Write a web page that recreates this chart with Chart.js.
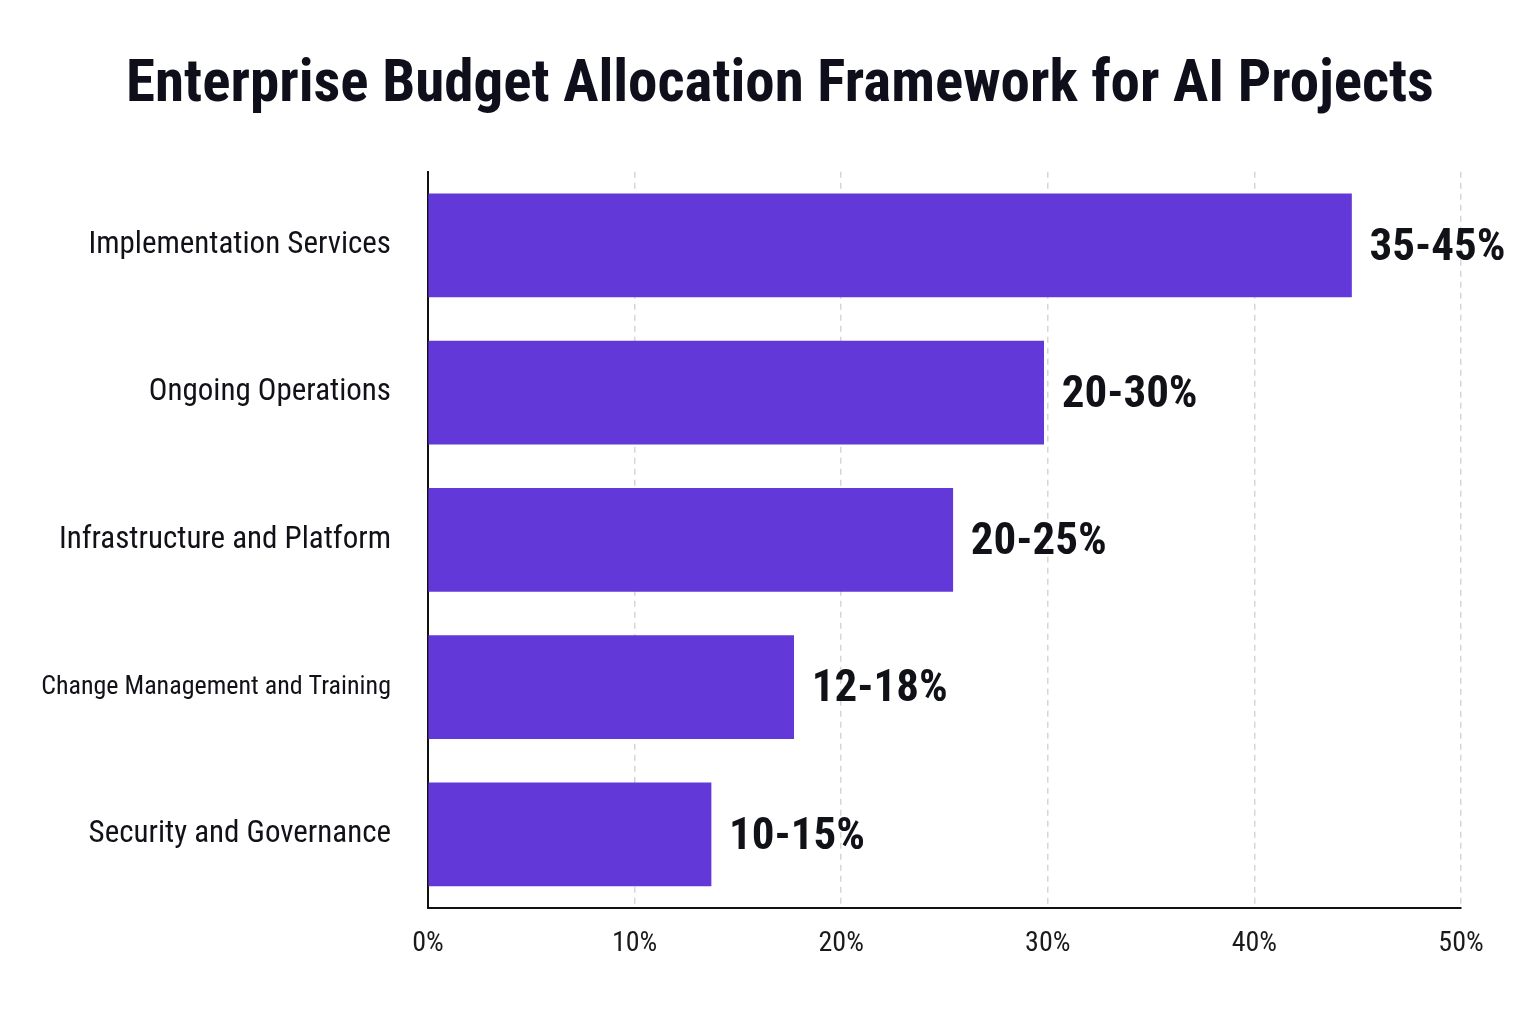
<!DOCTYPE html>
<html>
<head>
<meta charset="utf-8">
<script src="https://cdn.jsdelivr.net/npm/chart.js@4.4.1/dist/chart.umd.min.js"></script>
<style>
  html, body { margin: 0; padding: 0; background: #ffffff; }
  #wrap { width: 1536px; height: 1024px; }
</style>
</head>
<body>
<div id="wrap"><canvas id="c" width="1536" height="1024"></canvas></div>
<script>
const categories = [
  "Implementation Services",
  "Ongoing Operations",
  "Infrastructure and Platform",
  "Change Management and Training",
  "Security and Governance"
];
const allocationValues = [44.7, 29.8, 25.4, 17.7, 13.7];
const rangeLabels = ["35-45%", "20-30%", "20-25%", "12-18%", "10-15%"];
const xTickValues = [0, 10, 20, 30, 40, 50];

const FONT = "'Roboto Condensed', 'Open Sans Condensed', 'DejaVu Sans Condensed', sans-serif";
const BAR_COLOR = '#6338d8';
const TEXT_COLOR = '#111118';
const LABEL_MAX_WIDTH = 350;

// measure helper so long category labels stay inside the canvas like the reference
const measureCtx = document.createElement('canvas').getContext('2d');
function labelFontSize(text) {
  const base = 31;
  measureCtx.font = base + "px " + FONT;
  const w = measureCtx.measureText(text).width;
  return w > LABEL_MAX_WIDTH ? Math.floor(base * LABEL_MAX_WIDTH / w * 10) / 10 : base;
}

const valueLabelPlugin = {
  id: 'valueLabels',
  afterDatasetsDraw(chart) {
    const ctx = chart.ctx;
    const meta = chart.getDatasetMeta(0);
    ctx.save();
    ctx.font = "bold 45px " + FONT;
    ctx.fillStyle = TEXT_COLOR;
    ctx.textAlign = 'left';
    ctx.textBaseline = 'middle';
    meta.data.forEach((bar, i) => {
      ctx.fillText(rangeLabels[i], bar.x + 18, bar.y + 3);
    });
    ctx.restore();
  }
};

new Chart(document.getElementById('c'), {
  type: 'bar',
  data: {
    labels: categories,
    datasets: [{
      data: allocationValues,
      backgroundColor: BAR_COLOR,
      borderWidth: 0,
      barThickness: 103,
      xAxisID: 'x',
      yAxisID: 'y'
    }]
  },
  options: {
    indexAxis: 'y',
    responsive: false,
    animation: false,
    devicePixelRatio: 1,
    layout: { padding: { left: 0, right: -24, top: 0, bottom: 0 } },
    plugins: {
      legend: { display: false },
      tooltip: { enabled: false },
      title: {
        display: true,
        text: 'Enterprise Budget Allocation Framework for AI Projects',
        color: '#0f0f1c',
        font: { family: FONT, size: 59, weight: 'bold', lineHeight: 1.2 },
        padding: { top: 51, bottom: 50 }
      }
    },
    scales: {
      x: {
        type: 'linear',
        position: 'bottom',
        min: 0,
        max: 50,
        afterBuildTicks(scale) { scale.ticks = xTickValues.map(v => ({ value: v })); },
        afterFit(scale) { scale.height = 116; },
        ticks: {
          padding: 19,
          color: '#1a1a1a',
          font: { family: FONT, size: 28 },
          callback: v => v + '%'
        },
        grid: {
          display: true,
          drawTicks: false,
          color: '#d6d6d6',
          lineWidth: 1.5
        },
        border: { display: true, color: '#111111', width: 2, dash: [6, 5] }
      },
      y: {
        type: 'category',
        position: 'left',
        afterFit(scale) { scale.width = 428; },
        ticks: {
          padding: 37,
          color: TEXT_COLOR,
          font: (c) => ({ family: FONT, size: labelFontSize(categories[c.index] || '') })
        },
        grid: { display: false, drawTicks: false },
        border: { display: true, color: '#111111', width: 2 }
      },
      rightSpace: {
        type: 'linear',
        position: 'right',
        display: true,
        afterFit(scale) { scale.width = 99; },
        ticks: { display: false },
        grid: { display: false, drawTicks: false },
        border: { display: false }
      }
    }
  },
  plugins: [valueLabelPlugin]
});
</script>
</body>
</html>
